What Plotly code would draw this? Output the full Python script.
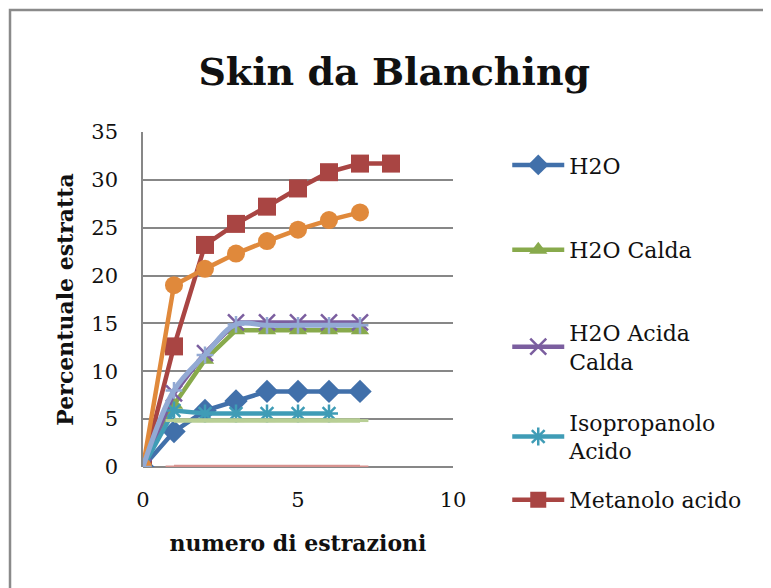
import plotly.graph_objects as go

x_full = [0, 1, 2, 3, 4, 5, 6, 7]
x_red = [0, 1, 2, 3, 4, 5, 6, 7, 8]
x_teal = [0, 1, 2, 3, 4, 5, 6]
x_flat = [1, 2, 3, 4, 5, 6, 7]

h2o = [0, 3.7, 5.9, 6.9, 7.9, 7.9, 7.9, 7.9]
h2o_calda = [0, 6.5, 11.2, 14.3, 14.3, 14.3, 14.3, 14.3]
h2o_acida_calda = [0, 7.7, 11.9, 15.1, 15.1, 15.1, 15.1, 15.1]
isopropanolo = [0, 5.9, 5.6, 5.6, 5.6, 5.6, 5.6]
metanolo = [0, 12.6, 23.2, 25.4, 27.2, 29.1, 30.8, 31.7, 31.7]
serie6 = [0, 19.0, 20.7, 22.3, 23.6, 24.8, 25.8, 26.6]
serie7 = [0, 8.0, 11.7, 14.9, 14.8, 14.8, 14.8, 14.8]
serie8 = [4.85, 4.85, 4.85, 4.85, 4.85, 4.85, 4.85]
serie9 = [0, 0, 0, 0, 0, 0, 0]

names = ["H2O", "H2O Calda", "H2O Acida<br>Calda", "Isopropanolo<br>Acido", "Metanolo acido"]
x_ticks = [0, 5, 10]
y_ticks = [0, 5, 10, 15, 20, 25, 30, 35]

FONT = "DejaVu Serif"
fig = go.Figure()

def add(x, y, color, symbol, size, name=None, legend=None, shape="linear", width=4.5, mline=0, mcolor=None):
    fig.add_trace(go.Scatter(
        x=x, y=y, mode="lines+markers", name=name or "",
        line=dict(color=color, width=width, shape=shape),
        marker=dict(symbol=symbol, size=size, color=color,
                    line=dict(width=mline, color=mcolor or color)),
        showlegend=name is not None, legend=legend,
    ))

add(x_red, metanolo, "#A94543", "square", 18, names[4], "legend5")
add(x_full, h2o, "#4170AA", "diamond", 18, names[0], "legend")
add(x_full, h2o_calda, "#88AA4C", "triangle-up", 16, names[1], "legend2")
add(x_full, h2o_acida_calda, "#7B5E9F", "x-thin", 16, names[2], "legend3", mline=2.5)
add(x_teal, isopropanolo, "#3F9CB6", "asterisk", 15, names[3], "legend4", mline=2.5)
add(x_full, serie6, "#E0893B", "circle", 18)
add(x_flat, serie8, "#B8CF95", "line-ew", 12, mline=3)
add(x_flat, serie9, "#D8928F", "line-ew", 12, mline=3)
add(x_full, serie7, "#93AAD4", "cross-thin", 12, shape="spline", width=5, mline=2.5)

grid = "#878787"
fig.update_xaxes(range=[0, 10], tickvals=x_ticks, showgrid=False, zeroline=False,
                 showline=False, ticks="", ticklabelstandoff=18,
                 tickfont=dict(family=FONT, size=21, color="#111"),
                 title=dict(text="<b>numero di estrazioni</b>", standoff=24,
                            font=dict(family=FONT, size=22, color="#111")))
fig.update_yaxes(range=[0, 35], tickvals=y_ticks, showgrid=True, gridcolor=grid, gridwidth=1.5,
                 zeroline=True, zerolinecolor=grid, zerolinewidth=1.5,
                 showline=True, linecolor=grid, linewidth=1.5, ticks="", ticklabelstandoff=19,
                 tickfont=dict(family=FONT, size=21, color="#111"),
                 title=dict(text="<b>Percentuale estratta</b>", standoff=12,
                            font=dict(family=FONT, size=22, color="#111")))

leg_common = dict(xanchor="left", yanchor="middle", x=1.175, bgcolor="rgba(0,0,0,0)",
                  font=dict(family=FONT, size=22, color="#111"), itemwidth=52)
legend_y = [0.901, 0.648, 0.358, 0.0896, -0.0985]
fig.update_layout(
    width=771, height=588,
    margin=dict(l=135, r=326, t=124, b=129),
    paper_bgcolor="white", plot_bgcolor="white",
    title=dict(text="<b>Skin da Blanching</b>", x=0.501, xanchor="center", y=0.891, yanchor="middle",
               font=dict(family=FONT, size=38, color="#111")),
    legend=dict(y=legend_y[0], **leg_common),
    legend2=dict(y=legend_y[1], **leg_common),
    legend3=dict(y=legend_y[2], **leg_common),
    legend4=dict(y=legend_y[3], **leg_common),
    legend5=dict(y=legend_y[4], **leg_common),
    shapes=[dict(type="rect", xref="paper", yref="paper", x0=-0.429, x1=2.1, y0=-0.5, y1=1.364,
                 line=dict(color="#8A8A8A", width=2.5), layer="below")],
)

fig.write_html("out.html")
